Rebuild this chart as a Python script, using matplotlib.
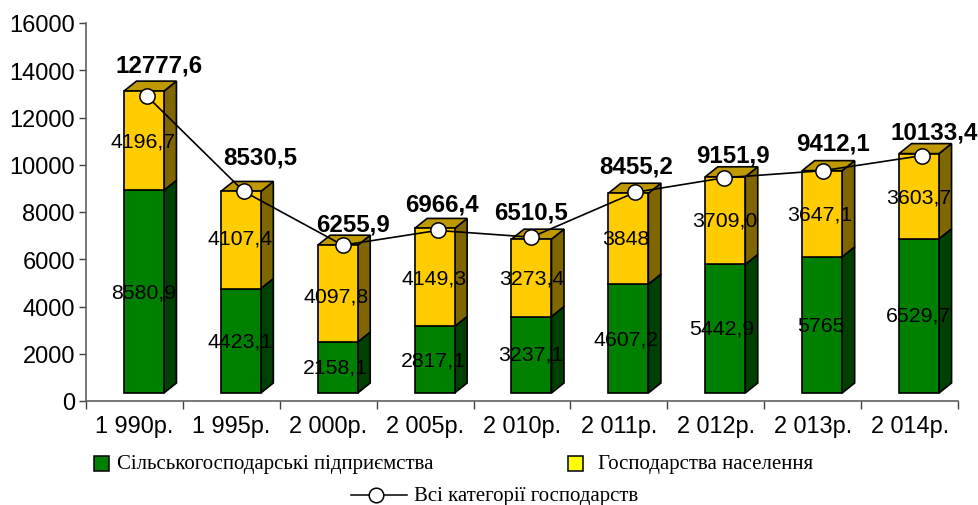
import matplotlib
matplotlib.use('Agg')
import matplotlib.pyplot as plt
from matplotlib.patches import Polygon, Rectangle
from matplotlib.lines import Line2D

W, H = 979, 506

years = ['1 990р.', '1 995р.', '2 000р.', '2 005р.', '2 010р.', '2 011р.', '2 012р.', '2 013р.', '2 014р.']
farms = [8580.9, 4423.1, 2158.1, 2817.1, 3237.1, 4607.2, 5442.9, 5765, 6529.7]
house = [4196.7, 4107.4, 4097.8, 4149.3, 3273.4, 3848, 3709.0, 3647.1, 3603.7]
total = [12777.6, 8530.5, 6255.9, 6966.4, 6510.5, 8455.2, 9151.9, 9412.1, 10133.4]
farm_labels = ['8580,9', '4423,1', '2158,1', '2817,1', '3237,1', '4607,2', '5442,9', '5765', '6529,7']
house_labels = ['4196,7', '4107,4', '4097,8', '4149,3', '3273,4', '3848', '3709,0', '3647,1', '3603,7']
total_labels = ['12777,6', '8530,5', '6255,9', '6966,4', '6510,5', '8455,2', '9151,9', '9412,1', '10133,4']

# hand placed in the original, pixel centres of the labels
farm_pos = [(144, 293), (240, 342), (335, 368), (433, 361), (531, 355), (626, 340), (722, 329), (821, 326), (919, 316)]
house_pos = [(143, 142), (240, 239), (336, 297), (434, 279), (532, 279), (626, 240), (725, 221), (820, 215), (919, 198)]
total_pos = [(159, 66), (260, 158), (353, 225), (442, 205), (531, 213), (636, 167), (733, 156), (833, 144), (934, 133)]
# line markers sit a little off the bar centres
marker_dx = [3, 3, 5, 3, 0, 7, -1, 1, 3]
marker_dy = [5, 0, 0, 2, -2, -1, 1, 0, 2]

plt.rcParams['font.family'] = ['Liberation Sans', 'DejaVu Sans']

fig = plt.figure(figsize=(W / 100, H / 100), dpi=100)
ax = fig.add_axes([86 / W, 1 - 402 / H, (958 - 86) / W, (402 - 24) / H])
ax.set_xlim(0, 9)
ax.set_ylim(0, 16000)

px_x = 9 / (958 - 86)      # data units per pixel
px_y = 16000 / (402 - 24)

shift = 9.5 * px_x         # bars sit right of the category centre
width = 40 * px_x
base = 8 * px_y            # front floor of the 3d box
dx = 12.5 * px_x
dy = 10 * px_y
edge = dict(edgecolor='black', linewidth=1.2)


def box(x, y0, y1, side, top=None):
    l, r = x - width / 2, x + width / 2
    ax.add_patch(Polygon([(r, y0), (r + dx, y0 + dy), (r + dx, y1 + dy), (r, y1)], facecolor=side, **edge))
    if top:
        ax.add_patch(Polygon([(l, y1), (l + dx, y1 + dy), (r + dx, y1 + dy), (r, y1)], facecolor=top, **edge))


for i in range(len(years)):
    x = i + 0.5 + shift
    box(x, base, base + farms[i], '#004000')
    box(x, base + farms[i], base + total[i], '#806600', '#BF9900')

centres = [i + 0.5 + shift for i in range(len(years))]
ax.bar(centres, farms, width, bottom=base, color='#008000', zorder=2, **edge)
ax.bar(centres, house, width, bottom=[base + f for f in farms], color='#FFCC00', zorder=2, **edge)

line_x = [c + d * px_x for c, d in zip(centres, marker_dx)]
line_y = [base + t - d * px_y for t, d in zip(total, marker_dy)]
ax.plot(line_x, line_y, color='black', linewidth=1.2, marker='o', markersize=11,
        markerfacecolor='white', markeredgecolor='black', markeredgewidth=1.1, zorder=3)

for s in ['top', 'right']:
    ax.spines[s].set_visible(False)
for s in ['left', 'bottom']:
    ax.spines[s].set_color('#606060')
    ax.spines[s].set_linewidth(1.2)

ax.set_yticks(range(0, 16001, 2000))
ax.tick_params(axis='y', labelsize=17, length=5, width=1, color='#404040', pad=3)
ax.set_xticks(range(10))
ax.set_xticklabels([])
ax.tick_params(axis='x', length=6, width=1, color='#404040')


def px(x, y):
    return x / W, 1 - y / H


for i, name in enumerate(years):
    fig.text(*px(134.5 + 97 * i, 427), name, fontsize=16.9, ha='center', va='center')

for labels, pos in [(farm_labels, farm_pos), (house_labels, house_pos)]:
    for s, p in zip(labels, pos):
        fig.text(*px(*p), s, fontsize=15.3, ha='center', va='center', zorder=5)
for s, p in zip(total_labels, total_pos):
    fig.text(*px(*p), s, fontsize=17.4, fontweight='bold', ha='center', va='center', zorder=5)

# legend
serif = ['Liberation Serif', 'DejaVu Serif']
for (x0, color, tx, name) in [(94, '#008000', 117, 'Сільськогосподарські підприємства'),
                              (568, '#FFFF00', 598, 'Господарства населення')]:
    fig.add_artist(Rectangle(px(x0, 472), 15 / W, 15 / H, transform=fig.transFigure,
                             facecolor=color, edgecolor='black', linewidth=1.1))
    fig.text(*px(tx, 465), name, fontsize=15, family=serif, ha='left', va='center')
fig.add_artist(Line2D([351 / W, 407 / W], [1 - 496 / H] * 2, transform=fig.transFigure, color='black', linewidth=1.1))
fig.add_artist(Line2D([376 / W], [1 - 496 / H], transform=fig.transFigure, marker='o', markersize=10.5,
                      markerfacecolor='white', markeredgecolor='black', markeredgewidth=1.1))
fig.text(*px(414, 497), 'Всі категорії господарств', fontsize=15, family=serif, ha='left', va='center')

fig.savefig('out.png', dpi=100)
